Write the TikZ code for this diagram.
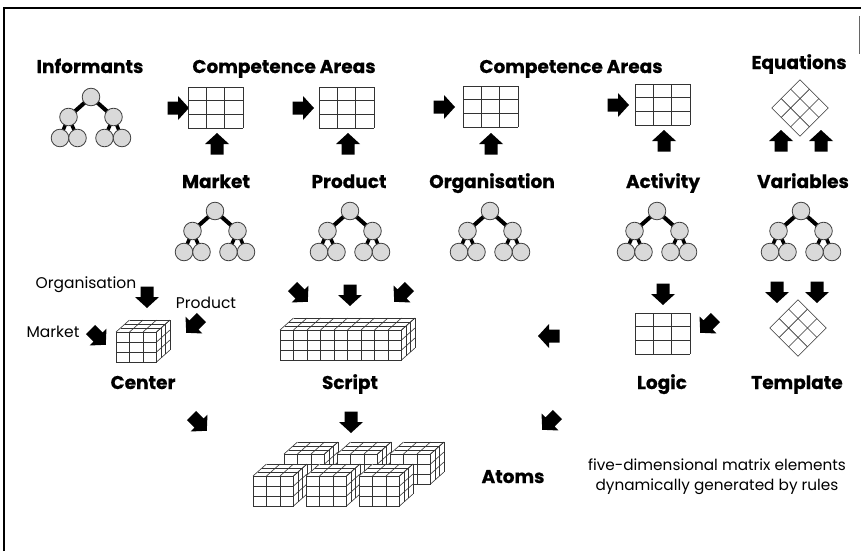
\documentclass[tikz,border=0pt]{standalone}
\usepackage{fontspec}
\setmainfont{Poppins}
\newfontfamily\heavyfont{Poppins}[BoldFeatures={FakeBold=0.6}]
\begin{document}
\begin{tikzpicture}[x=1pt,y=-1pt,
  gridline/.style={draw=black!80,line width=0.6pt},
  frameline/.style={draw=black,line width=1.6pt},
  treelink/.style={draw=black,line width=4pt},
  treenode/.style={draw=black!75,line width=0.8pt,fill=black!15},
  blockarrow/.style={fill=black},
  title/.style={font=\heavyfont\bfseries\fontsize{18.5}{20}\selectfont,anchor=base},
  note/.style={font=\fontsize{15.5}{17}\selectfont,anchor=base},
  caption/.style={font=\fontsize{15.3}{18}\selectfont,anchor=base}]

% page area and frame
\useasboundingbox (0,0) rectangle (861,551);
\fill[white] (0,0) rectangle (861,551);
\draw[frameline] (4,551) -- (4,8) -- (861,8);
\draw[black!60,line width=0.8pt] (859,16) -- (859,54);

% ---------- drawing helpers ----------
% fat block arrow centred at (x,y), direction given in degrees
\newcommand\fatarrow[3]{%
  \fill[blockarrow,shift={(#1,#2)},rotate=#3]
    (-10.5,-6.5) -- (0,-6.5) -- (0,-12) -- (11,0) -- (0,12) -- (0,6.5) -- (-10.5,6.5) -- cycle;}
% flat 3x3 table with top-left corner at (x,y)
\newcommand\flatgrid[2]{%
  \begin{scope}[shift={(#1,#2)}]
    \fill[white] (0,0) rectangle (55,41);
    \foreach \i in {0,1,2,3} \draw[gridline] (\i*55/3,0) -- (\i*55/3,41);
    \foreach \j in {0,1,2,3} \draw[gridline] (0,\j*41/3) -- (55,\j*41/3);
  \end{scope}}
% 3x3 table turned on its corner, centred at (x,y)
\newcommand\diamondgrid[2]{%
  \begin{scope}[shift={(#1,#2)},rotate=45]
    \foreach \i in {0,1,2,3} \draw[gridline] (-20+\i*40/3,-20) -- (-20+\i*40/3,20);
    \foreach \j in {0,1,2,3} \draw[gridline] (-20,-20+\j*40/3) -- (20,-20+\j*40/3);
  \end{scope}}
% block of cells: front face top-left at (x,y), #3 columns, 3 rows, 3 layers
\newcommand\cellblock[3]{%
  \begin{scope}[shift={(#1,#2)}]
    \pgfmathsetmacro\bw{#3*13.5}
    \fill[white] (0,0) -- (0,30) -- (\bw,30) -- (\bw+13.5,18) -- (\bw+13.5,-12) -- (13.5,-12) -- cycle;
    \foreach \i in {0,...,#3} \draw[gridline] (\i*13.5,0) -- (\i*13.5,30);
    \foreach \j in {0,1,2,3} \draw[gridline] (0,\j*10) -- (\bw,\j*10);
    \foreach \i in {0,...,#3} \draw[gridline] (\i*13.5,0) -- ++(13.5,-12);
    \foreach \k in {1,2,3} \draw[gridline] (\k*4.5,-\k*4) -- ++(\bw,0);
    \foreach \j in {0,1,2,3} \draw[gridline] (\bw,\j*10) -- ++(13.5,-12);
    \foreach \k in {1,2,3} \draw[gridline] (\bw+\k*4.5,-\k*4) -- ++(0,30);
  \end{scope}}
% binary tree of seven nodes, root at (x,y)
\newcommand\nodetree[2]{%
  \begin{scope}[shift={(#1,#2)}]
    \draw[treelink] (0,0) -- (-22.5,20) (0,0) -- (22.5,20);
    \draw[treelink,line width=3.5pt] (-22.5,20) -- (-31,41) (-22.5,20) -- (-13.5,41)
                                  (22.5,20) -- (13.5,41) (22.5,20) -- (31,41);
    \foreach \p in {(0,0),(-22.5,20),(22.5,20),(-31,41),(-13.5,41),(13.5,41),(31,41)}
      \filldraw[treenode] \p circle (8.8);
  \end{scope}}

% ---------- top row ----------
\node[title] (informants) at (90,73) {Informants};
\node[title] (compA) at (284,73) {Competence Areas};
\node[title] (compB) at (571,73) {Competence Areas};
\node[title] (equations) at (799,69) {Equations};

\nodetree{91}{97}
\fatarrow{178}{108}{0}   \flatgrid{188}{87}  \fatarrow{217}{144}{90}
\fatarrow{303}{108}{0}   \flatgrid{319}{87}  \fatarrow{348}{144}{90}
\fatarrow{444}{107}{0}   \flatgrid{463}{86}  \fatarrow{491}{144}{90}
\fatarrow{618}{105}{0}   \flatgrid{635}{84}  \fatarrow{664}{141}{90}
\diamondgrid{800}{108}   \fatarrow{781}{141}{90} \fatarrow{821}{141}{90}

% ---------- middle row ----------
\node[title] (market) at (216,188) {Market};
\node[title] (product) at (349,188) {Product};
\node[title] (organisation) at (492,188) {Organisation};
\node[title] (activity) at (663,188) {Activity};
\node[title] (variables) at (803,188) {Variables};

\nodetree{215}{211}
\nodetree{350}{211}
\nodetree{490}{211}
\nodetree{657}{211}
\nodetree{801}{211}

% ---------- third row ----------
\node[note] (orgnote) at (86,288) {Organisation};
\node[note] (prodnote) at (206,308) {Product};
\node[note] (marknote) at (53,337) {Market};
\fatarrow{147}{297}{270}
\fatarrow{194}{325}{225}
\fatarrow{98}{337}{315}
\cellblock{116}{332}{3}

\fatarrow{300}{294}{315}
\fatarrow{350}{295}{270}
\fatarrow{402}{294}{225}
\cellblock{280}{330}{9}

\fatarrow{549}{336}{180}

\fatarrow{663}{294}{270}
\flatgrid{635}{313}
\fatarrow{708}{325}{225}

\fatarrow{777}{292}{270}
\fatarrow{817}{292}{270}
\diamondgrid{798}{328}

\node[title] (center) at (143,389) {Center};
\node[title] (script) at (350,389) {Script};
\node[title] (logic) at (662,389) {Logic};
\node[title] (template) at (797,389) {Template};

% ---------- bottom row ----------
\fatarrow{199}{423}{315}
\fatarrow{351}{422}{270}
\fatarrow{550}{422}{225}

\cellblock{284}{454}{3}
\cellblock{337}{454}{3}
\cellblock{390}{454}{3}
\cellblock{253}{476}{3}
\cellblock{306}{476}{3}
\cellblock{359}{476}{3}

\node[title] (atoms) at (513,483) {Atoms};
\node[caption] (capA) at (717,470) {five-dimensional matrix elements};
\node[caption] (capB) at (717,490) {dynamically generated by rules};
\end{tikzpicture}
\end{document}
